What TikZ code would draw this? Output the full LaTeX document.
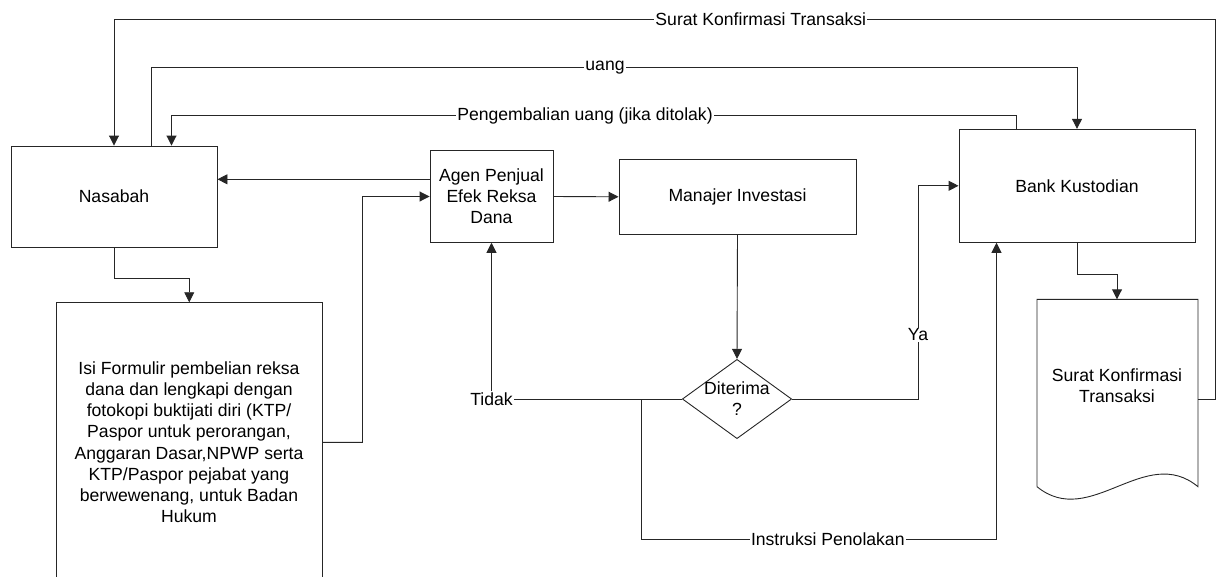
\documentclass[tikz,border=0pt]{standalone}
\usepackage{fontspec}
\setmainfont{Liberation Sans}
\usetikzlibrary{arrows.meta,shapes.geometric}
\tikzset{
  ln/.style={draw=black!85, line width=0.9pt},
  arr/.style={ln, -{Triangle[length=10pt,width=10pt]}},
  box/.style={ln, rectangle, inner sep=0pt, align=center},
  lbl/.style={fill=white, inner sep=1pt, align=center},
  txt/.style={inner sep=0pt, align=center},
}
\begin{document}
\begin{tikzpicture}[x=1pt,y=-1pt, every node/.style={font=\fontsize{17.6}{21.2}\selectfont}]
\useasboundingbox (0,0) rectangle (1216,576);
\begin{scope}
\clip (0,0) rectangle (1216,576);
% boxes
\node[box, minimum width=206pt, minimum height=101pt] (nas) at (114,196.5) {Nasabah};
\node[box, minimum width=123pt, minimum height=91.6pt] (agen) at (491.5,196.5) {Agen Penjual\\Efek Reksa\\Dana};
\node[box, minimum width=237pt, minimum height=75pt] (man) at (737.5,196.8) {Manajer Investasi};
\node[box, minimum width=236pt, minimum height=113pt] (bank) at (1077,185.8) {Bank Kustodian};
\node[box, minimum width=265.5pt, minimum height=297.3pt] (form) at (189.25,451.35) {};
\node[txt] (formtext) at (189,442.3) {Isi Formulir pembelian reksa\\dana dan lengkapi dengan\\fotokopi buktijati diri (KTP/\\Paspor untuk perorangan,\\Anggaran Dasar,NPWP serta\\KTP/Paspor pejabat yang\\berwewenang, untuk Badan\\Hukum};
\node[ln, diamond, minimum width=109.3pt, minimum height=79.3pt, inner sep=0pt] (dia) at (737,399) {};
\node[txt] (diatext) at (737,399) {Diterima\\?};
% document shape
\draw[ln] (1037,486.7) -- (1037,299.3) -- (1198,299.3) -- (1198,486.7)
  .. controls (1145,443) and (1090,530) .. (1037,486.7);
\coordinate (doctop) at (1117,299.3);
\coordinate (docright) at (1198,399);
\node[txt] (doctext) at (1117,385.5) {Surat Konfirmasi\\Transaksi};
% connectors
\coordinate (cR) at (1215,19.3);
\draw[arr] (docright) -| (cR) -- (cR -| nas.north) -- (nas.north);
\draw[arr] ([xshift=37.8pt]nas.north) |- ([yshift=61.6pt]bank.north) -- (bank.north);
\draw[arr] ([xshift=-60.5pt]bank.north) |- ([xshift=57.5pt,yshift=29.7pt]nas.north) -- ([xshift=57.5pt]nas.north);
\draw[arr] ([yshift=17.2pt]agen.west) -- ([yshift=17.2pt]agen.west -| nas.east);
\draw[arr] (nas.south) -- ++(0,31.3) -| (form.north);
\coordinate (fturn) at (362.5,442.3);
\draw[arr] ([yshift=9pt]form.east) -- (fturn) |- (agen.west);
\draw[arr] (agen.east) -- (man.west);
\draw[arr] (man.south) -- (dia.north);
\node[lbl] (tidak) at (agen.south |- dia.west) {Tidak};
\draw[ln] (dia.west) -- (tidak.east);
\draw[arr] (tidak.north) -- (agen.south);
\coordinate (split) at (641.3,399);
\coordinate (split2) at (641.3,539);
\draw[arr] (split) -- (split2) -| ([xshift=-80.5pt]bank.south);
\coordinate (yac) at (918,399);
\draw[arr] (dia.east) -- (yac) |- (bank.west);
\draw[arr] (bank.south) -- ++(0,32) -| (doctop);
% labels
\node[lbl] (l1) at (760.8,19.3) {Surat Konfirmasi Transaksi};
\node[lbl] (l2) at (605,67.7) {uang};
\node[lbl] (l3) at (585,116.3) {Pengembalian uang (jika ditolak)};
\node[lbl] (l4) at (827.8,539) {Instruksi Penolakan};
\node[lbl] (l5) at (918,335) {Ya};
\end{scope}
\end{tikzpicture}
\end{document}
